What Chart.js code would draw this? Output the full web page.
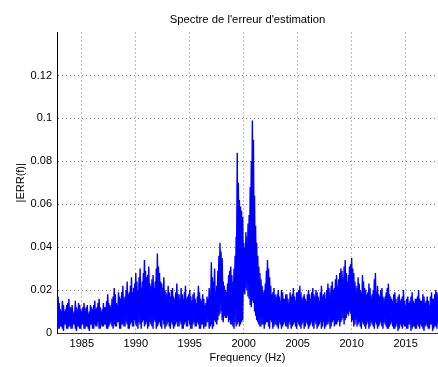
<!DOCTYPE html>
<html>
<head>
<meta charset="utf-8">
<script src="https://cdn.jsdelivr.net/npm/chart.js@4.4.0/dist/chart.umd.min.js"></script>
<style>
  html, body { margin: 0; padding: 0; background: #fff; }
  canvas { display: block; }
</style>
</head>
<body>
<canvas id="spectre" width="438" height="367"></canvas>
<script>
// frequency bins of the spectrum (Hz)
const freqStart = 1982.6;
const freqStep = 0.1;

// |ERR(f)|, one row per Hz (first row starts at 1982.6)
const errMag = [
  .013,.003,.017,.002,
  .011,.003,.015,.001,.010,.004,.013,.002,.016,.003,
  .012,.002,.009,.004,.015,.001,.011,.003,.013,.002,
  .010,.004,.014,.002,.012,.003,.009,.001,.013,.004,
  .011,.002,.015,.003,.012,.005,.016,.002,.010,.003,
  .014,.004,.012,.002,.018,.003,.013,.005,.016,.002,
  .021,.003,.014,.005,.019,.002,.016,.004,.022,.003,
  .017,.005,.024,.002,.019,.004,.026,.003,.021,.006,
  .028,.003,.020,.005,.030,.002,.024,.006,.034,.004,
  .026,.002,.031,.005,.022,.003,.027,.006,.024,.002,
  .037,.004,.028,.003,.023,.006,.026,.002,.019,.004,
  .022,.003,.017,.005,.021,.002,.016,.004,.023,.003,
  .018,.005,.021,.002,.016,.004,.022,.003,.017,.006,
  .020,.002,.015,.004,.019,.003,.014,.005,.022,.002,
  .016,.004,.018,.002,.013,.003,.017,.005,.021,.003,
  .033,.002,.024,.006,.019,.004,.029,.008,.042,.010,
  .035,.005,.022,.007,.019,.008,.027,.006,.031,.004,
  .024,.002,.036,.003,.084,.005,.062,.004,.057,.006,
  .042,.018,.047,.020,.051,.016,.068,.012,.099,.014,
  .064,.008,.042,.005,.031,.003,.025,.004,.019,.002,
  .023,.005,.034,.003,.026,.006,.018,.002,.021,.004,
  .017,.003,.020,.005,.015,.002,.019,.004,.016,.003,
  .018,.002,.014,.004,.017,.003,.021,.005,.015,.002,
  .019,.004,.022,.002,.016,.005,.018,.003,.015,.004,
  .020,.003,.016,.005,.021,.002,.017,.004,.019,.003,
  .015,.005,.022,.003,.018,.002,.016,.004,.023,.005,
  .019,.003,.024,.006,.021,.004,.027,.005,.025,.003,
  .030,.006,.026,.004,.034,.007,.024,.008,.031,.009,
  .035,.006,.028,.004,.022,.003,.026,.005,.020,.002,
  .027,.004,.021,.002,.018,.005,.023,.003,.017,.004,
  .020,.002,.028,.004,.022,.003,.017,.005,.021,.002,
  .016,.004,.019,.002,.023,.003,.017,.005,.015,.002,
  .019,.003,.014,.001,.018,.004,.016,.002,.020,.003,
  .013,.002,.017,.004,.015,.001,.019,.003,.014,.002,
  .016,.004,.020,.002,.015,.003,.018,.001,.014,.004,
  .017,.002,.013,.004,.019,.001,.016,.003,.020,.002,
  .018
];

// a second, overlapping trace (peaks on the other bins)
const errMag2 = [
  .004,.012,.002,.014,
  .003,.010,.002,.013,.004,.011,.002,.014,.003,.012,
  .002,.013,.004,.010,.002,.012,.003,.014,.002,.011,
  .004,.012,.002,.011,.003,.013,.002,.010,.004,.012,
  .002,.013,.004,.011,.003,.014,.002,.012,.004,.011,
  .003,.012,.004,.015,.002,.014,.004,.012,.003,.017,
  .004,.018,.003,.013,.005,.017,.002,.019,.004,.016,
  .003,.020,.004,.018,.002,.022,.005,.019,.003,.023,
  .004,.024,.002,.026,.004,.021,.005,.028,.003,.029,
  .005,.027,.003,.023,.004,.025,.002,.021,.005,.030,
  .003,.031,.005,.024,.002,.021,.004,.020,.003,.018,
  .005,.019,.002,.020,.004,.017,.003,.019,.005,.018,
  .003,.016,.004,.018,.002,.019,.005,.016,.003,.018,
  .004,.017,.002,.018,.005,.016,.003,.017,.004,.019,
  .002,.015,.004,.016,.003,.014,.005,.016,.002,.018,
  .004,.026,.003,.030,.005,.022,.006,.036,.009,.038,
  .006,.024,.008,.020,.007,.023,.005,.029,.004,.027,
  .003,.030,.005,.045,.004,.070,.003,.059,.005,.054,
  .019,.040,.021,.045,.017,.055,.013,.080,.015,.090,
  .010,.050,.006,.036,.004,.028,.003,.022,.004,.020,
  .004,.029,.005,.030,.002,.022,.005,.019,.003,.018,
  .004,.018,.002,.017,.004,.020,.003,.016,.005,.018,
  .003,.016,.005,.019,.002,.018,.004,.017,.003,.019,
  .005,.020,.003,.019,.004,.017,.002,.016,.005,.018,
  .002,.018,.004,.019,.003,.018,.005,.020,.002,.017,
  .004,.019,.002,.017,.005,.019,.003,.020,.004,.021,
  .002,.022,.005,.020,.003,.025,.004,.022,.006,.028,
  .005,.029,.007,.031,.006,.028,.009,.027,.010,.032,
  .005,.030,.003,.024,.006,.021,.004,.023,.003,.019,
  .005,.024,.003,.020,.004,.019,.002,.021,.005,.018,
  .003,.025,.005,.019,.002,.018,.004,.020,.003,.017,
  .005,.017,.003,.021,.002,.018,.004,.016,.003,.018,
  .002,.016,.004,.017,.002,.015,.003,.017,.004,.015,
  .003,.016,.002,.014,.004,.017,.002,.015,.003,.016,
  .002,.017,.003,.016,.004,.015,.002,.017,.003,.015,
  .003,.015,.002,.017,.004,.016,.002,.018,.003,.019,
  .004
];

const xTicks = [1985, 1990, 1995, 2000, 2005, 2010, 2015];
const yTicks = [0, 0.02, 0.04, 0.06, 0.08, 0.1, 0.12];

const font = {family: "'Liberation Sans', Arial, sans-serif", size: 11};
const gridColor = "rgba(0,0,0,0.5)";

const toPoints = (vals)=>vals.map((v, i)=>({x: freqStart + i * freqStep, y: v}));

const trace = (vals)=>({
  data: toPoints(vals),
  borderColor: "#0000ff",
  borderWidth: 1.4,
  pointRadius: 0,
  tension: 0,
  fill: false
});

const ctx = document.getElementById("spectre").getContext("2d");
new Chart(ctx, {
  type: "line",
  data: {
    datasets: [trace(errMag), trace(errMag2)]
  },
  options: {
    responsive: false,
    animation: false,
    devicePixelRatio: 1,
    layout: {padding: {left: 0, right: 0, top: 0, bottom: 0}},
    plugins: {
      legend: {display: false},
      tooltip: {enabled: false},
      title: {
        display: true,
        text: "Spectre de l'erreur d'estimation",
        color: "#000",
        font: {...font, size: 11.3, weight: "normal"},
        fullSize: false,
        padding: {top: 13, bottom: 6}
      }
    },
    scales: {
      x: {
        type: "linear",
        min: 1982.7,
        max: 2018,
        afterBuildTicks: (scale)=>{ scale.ticks = xTicks.map((v)=>({value: v})); },
        afterFit: (scale)=>{ scale.height = 34; },
        ticks: {color: "#000", font: font, padding: 4, maxRotation: 0, callback: (v)=>String(v)},
        grid: {color: gridColor, drawTicks: false, lineWidth: 1},
        border: {display: true, color: "#333", width: 1, dash: [1, 3]},
        title: {display: true, text: "Frequency (Hz)", color: "#000", font: font, padding: {top: 0, bottom: 2}}
      },
      y: {
        type: "linear",
        min: 0,
        max: 0.14,
        afterBuildTicks: (scale)=>{ scale.ticks = yTicks.map((v)=>({value: v})); },
        afterFit: (scale)=>{ scale.width = 57; },
        ticks: {color: "#000", font: font, padding: 5, callback: (v)=>String(+v.toFixed(2))},
        grid: {color: gridColor, drawTicks: false, lineWidth: 1},
        border: {display: true, color: "#000", width: 1, dash: [1, 3]},
        title: {display: true, text: "|ERR(f)|", color: "#000", font: font, padding: {top: 14, bottom: 0}}
      }
    }
  }
});
</script>
</body>
</html>
